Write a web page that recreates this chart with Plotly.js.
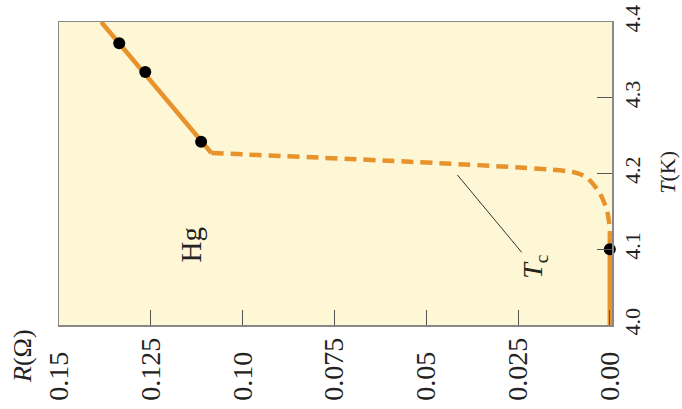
<!DOCTYPE html>
<html>
<head>
<meta charset="utf-8">
<script src="https://cdn.plot.ly/plotly-3.0.1.min.js"></script>
<style>html,body{margin:0;padding:0;background:#fff}#chart{width:682px;height:409px}</style>
</head>
<body>
<div id="chart"></div>
<script>
// Hg resistance R (ohm) vs temperature T (K), drawn rotated: R on horizontal (reversed), T on vertical (right side)
const normalR = [0.1385, 0.1085];
const normalT = [4.40, 4.227];
const transitionR = [0.1085, 0.0101, 0.0063, 0.0027, 0.0008, 0.0, 0.0];
const transitionT = [4.227, 4.202, 4.195, 4.174, 4.152, 4.129, 4.116];
const superR = [0.0, 0.0];
const superT = [4.116, 4.0];
const measuredR = [0.1336, 0.1265, 0.1113, 0.0];
const measuredT = [4.372, 4.334, 4.242, 4.10];
const rTickVals = [0.15, 0.125, 0.10, 0.075, 0.05, 0.025, 0.0];
const rTickText = ["0.15", "0.125", "0.10", "0.075", "0.05", "0.025", "0.00"];
const tTickVals = [4.0, 4.1, 4.2, 4.3, 4.4];
const tTickText = ["4.0", "4.1", "4.2", "4.3", "4.4"];

const orange = '#e8922c';
const maxLen = Math.max(...rTickText.map(s => s.length));
const paddedR = rTickText.map(s => s + '\u00a0\u00a0'.repeat(maxLen - s.length));
const serif = 'Liberation Serif, Times New Roman, serif';
const ink = '#222';

const traces = [
  {x: normalR, y: normalT, mode: 'lines', line: {color: orange, width: 4.5}, hoverinfo: 'skip'},
  {x: transitionR, y: transitionT, mode: 'lines', line: {color: orange, width: 4.5, dash: '12px,7px', shape: 'spline', smoothing: 0.6}, hoverinfo: 'skip'},
  {x: superR, y: superT, mode: 'lines', line: {color: orange, width: 4.5}, hoverinfo: 'skip'},
  {x: measuredR, y: measuredT, mode: 'markers', marker: {color: '#000', size: 12}, cliponaxis: false}
];

const layout = {
  width: 682, height: 409,
  margin: {l: 59, r: 70, t: 22, b: 84},
  paper_bgcolor: '#ffffff',
  plot_bgcolor: '#fdf7d5',
  showlegend: false,
  font: {family: serif, color: ink},
  xaxis: {
    range: [0.15, -0.0006],
    tickvals: rTickVals, ticktext: paddedR,
    tickangle: -90,
    tickfont: {size: 28, family: serif, color: ink},
    ticks: 'inside', ticklen: 15, tickcolor: '#555', tickwidth: 1,
    showline: true, linecolor: '#888', linewidth: 1.5, mirror: true,
    showgrid: false, zeroline: false
  },
  yaxis: {
    side: 'right',
    range: [4.0, 4.4],
    tickvals: tTickVals, ticktext: tTickText,
    tickangle: -90,
    tickfont: {size: 22, family: serif, color: ink},
    ticks: 'inside', ticklen: 15, tickcolor: '#555', tickwidth: 1,
    showline: true, linecolor: '#888', linewidth: 1.5, mirror: true,
    showgrid: false, zeroline: false
  },
  shapes: [
    {type: 'line', xref: 'x', yref: 'y', x0: 0.0415, y0: 4.198, x1: 0.0240, y1: 4.096, line: {color: '#333', width: 1}}
  ],
  annotations: [
    {x: 0.1141, y: 4.106, xref: 'x', yref: 'y', xanchor: 'center', yanchor: 'middle', text: 'Hg', showarrow: false, textangle: -90, font: {size: 29, family: serif, color: ink}},
    {x: 0.0204, y: 4.078, xref: 'x', yref: 'y', xanchor: 'center', yanchor: 'middle', text: '<i>T</i><sub>c</sub>', showarrow: false, textangle: -90, font: {size: 28, family: serif, color: ink}},
    {x: -0.065, y: -0.102, xref: 'paper', yref: 'paper', xanchor: 'center', yanchor: 'middle', text: '<i>R</i>(Ω)', showarrow: false, textangle: -90, font: {size: 26, family: serif, color: ink}},
    {x: 1.101, y: 0.505, xref: 'paper', yref: 'paper', xanchor: 'center', yanchor: 'middle', text: '<i>T</i>(K)', showarrow: false, textangle: -90, font: {size: 22, family: serif, color: ink}}
  ]
};

Plotly.newPlot('chart', traces, layout, {displayModeBar: false, staticPlot: true});
</script>
</body>
</html>
